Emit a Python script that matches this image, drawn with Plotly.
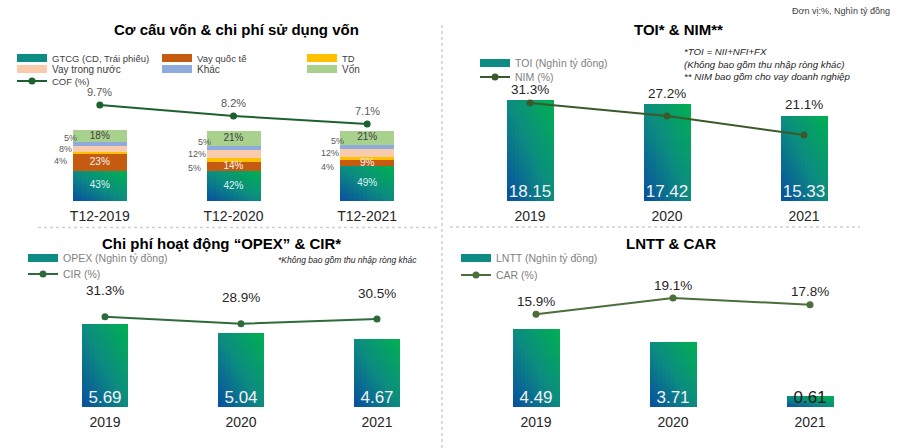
import plotly.graph_objects as go

W, H = 900, 448

# ---------------- data ----------------
struct_cats = ["T12-2019", "T12-2020", "T12-2021"]
gtcg = [43, 42, 49]
vay_qt = [23, 14, 9]
td = [4, 5, 4]
vay_tn = [8, 12, 12]
khac = [5, 5, 5]
von = [18, 21, 21]
cof = [9.7, 8.2, 7.1]

years = ["2019", "2020", "2021"]
toi = [18.15, 17.42, 15.33]
nim = [31.3, 27.2, 21.1]
opex = [5.69, 5.04, 4.67]
cir = [31.3, 28.9, 30.5]
lntt = [4.49, 3.71, 0.61]
car = [15.9, 19.1, 17.8]

# ---------------- style ----------------
FONT = "Liberation Sans, Arial, sans-serif"
BLUE = (8, 78, 160)
TEAL = (12, 140, 128)
GREEN = (0, 176, 80)
C_QT, C_TD, C_TN, C_KHAC, C_VON = "#C55A11", "#FFC000", "#F8CBAD", "#8FAADC", "#A9D18E"
C_COF, C_NIM, C_CIR, C_CAR = "#1E6131", "#3B5A2B", "#2E6B3C", "#4C6E3A"
TXT = "#262626"


def dom_x(a, b):
    return [a / W, b / W]


def dom_y(bottom, top):
    return [1 - bottom / H, 1 - top / H]


def yrange(zero_px, ppu, bottom, top):
    return [(zero_px - bottom) / ppu, (zero_px - top) / ppu]


def grad_color(t):
    if t < 0.5:
        a, b, s = BLUE, TEAL, t / 0.5
    else:
        a, b, s = TEAL, GREEN, (t - 0.5) / 0.5
    return "rgb(%d,%d,%d)" % tuple(round(a[i] + (b[i] - a[i]) * s) for i in range(3))


fig = go.Figure()


def gradient_bars(cats, vals, bases, width, xa, ya, name, N=28, K=12):
    xs, bs, ys, offs, ws, cols = [], [], [], [], [], []
    cw = width / K
    for r in range(N):
        for c in range(K):
            for cat, v, b0 in zip(cats, vals, bases):
                h = v / N
                xs.append(cat)
                bs.append(b0 + h * r)
                ys.append(h * (1.6 if r < N - 1 else 1.0))
                offs.append(-width / 2 + c * cw)
                ws.append(cw * (1.6 if c < K - 1 else 1.0))
                cols.append(grad_color(((r + 0.5) / N + (c + 0.5) / K) / 2))
    fig.add_trace(go.Bar(x=xs, y=ys, base=bs, offset=offs, width=ws,
                         marker=dict(color=cols, line=dict(width=0)),
                         xaxis=xa, yaxis=ya, hoverinfo="skip", showlegend=False))
    # transparent full bar carrying the real values (hover)
    fig.add_trace(go.Bar(x=cats, y=vals, base=bases, width=width, name=name,
                         marker=dict(color="rgba(0,0,0,0)", line=dict(width=0)),
                         xaxis=xa, yaxis=ya, showlegend=False,
                         hovertemplate="%{x}: %{y}<extra>" + name + "</extra>"))


def legend_swatch(name, color, legend):
    fig.add_trace(go.Scatter(x=[None], y=[None], mode="lines", name=name,
                             line=dict(color=color, width=8), legend=legend,
                             hoverinfo="skip"))


def cumsum_bases(*series):
    out = []
    acc = [0] * len(series[0])
    for s in series:
        out.append(list(acc))
        acc = [a + v for a, v in zip(acc, s)]
    return out


# ================= Panel 1: stacked structure + COF =================
b_gtcg, b_qt, b_td, b_tn, b_khac, b_von = cumsum_bases(gtcg, vay_qt, td, vay_tn, khac, von)
BW1 = 0.404
gradient_bars(struct_cats, gtcg, b_gtcg, BW1, "x", "y", "GTCG (CD, Trái phiếu)")
for vals, bases, col, nm in [(vay_qt, b_qt, C_QT, "Vay quốc tế"), (td, b_td, C_TD, "TD"),
                             (vay_tn, b_tn, C_TN, "Vay trong nước"), (khac, b_khac, C_KHAC, "Khác"),
                             (von, b_von, C_VON, "Vốn")]:
    fig.add_trace(go.Bar(x=struct_cats, y=vals, base=bases, width=BW1, name=nm,
                         marker=dict(color=col, line=dict(width=0)), xaxis="x", yaxis="y",
                         showlegend=False, hovertemplate="%{x}: %{y}%<extra>" + nm + "</extra>"))

# in-bar labels
for vals, bases, col in [(gtcg, b_gtcg, "#DDF3F3"), (vay_qt, b_qt, "#F5F5F5"), (von, b_von, "#404040")]:
    fig.add_trace(go.Scatter(x=struct_cats, y=[b + v / 2 for b, v in zip(bases, vals)],
                             mode="text", text=[f"{v}%" for v in vals],
                             textposition="middle center", textfont=dict(size=10, color=col, family=FONT),
                             xaxis="x", yaxis="y", showlegend=False, hoverinfo="skip"))

fig.add_trace(go.Scatter(x=struct_cats, y=cof, mode="lines+markers", name="COF (%)",
                         line=dict(color=C_COF, width=2), marker=dict(size=7, color=C_COF),
                         xaxis="x", yaxis="y2", legend="legend3",
                         hovertemplate="%{x}: %{y}%<extra>COF</extra>"))

legend_swatch("GTCG (CD, Trái phiếu)", "#0E8C84", "legend")
legend_swatch("Vay quốc tế", C_QT, "legend")
legend_swatch("TD", C_TD, "legend")
legend_swatch("Vay trong nước", C_TN, "legend2")
legend_swatch("Khác", C_KHAC, "legend2")
legend_swatch("Vốn", C_VON, "legend2")

# ================= Panel 2: TOI & NIM =================
BW = 0.336
gradient_bars(years, toi, [0, 0, 0], BW, "x2", "y3", "TOI")
fig.add_trace(go.Scatter(x=years, y=[0, 0, 0], mode="text", text=[f"{v:.2f}" for v in toi],
                         textposition="top center", textfont=dict(size=17, color="#F2F2F2", family=FONT),
                         xaxis="x2", yaxis="y3", showlegend=False, hoverinfo="skip"))
fig.add_trace(go.Scatter(x=years, y=nim, mode="lines+markers", name="NIM (%)",
                         line=dict(color=C_NIM, width=2), marker=dict(size=7, color=C_NIM),
                         xaxis="x2", yaxis="y4", legend="legend5",
                         hovertemplate="%{x}: %{y}%<extra>NIM</extra>"))
legend_swatch("TOI (Nghìn tỷ đồng)", "#0E8C84", "legend4")

# ================= Panel 3: OPEX & CIR =================
gradient_bars(years, opex, [0, 0, 0], BW, "x3", "y5", "OPEX")
fig.add_trace(go.Scatter(x=years, y=[0, 0, 0], mode="text", text=[f"{v:.2f}" for v in opex],
                         textposition="top center", textfont=dict(size=17, color="#F2F2F2", family=FONT),
                         xaxis="x3", yaxis="y5", showlegend=False, hoverinfo="skip"))
fig.add_trace(go.Scatter(x=years, y=cir, mode="lines+markers", name="CIR (%)",
                         line=dict(color=C_CIR, width=2), marker=dict(size=7, color=C_CIR),
                         xaxis="x3", yaxis="y6", legend="legend7",
                         hovertemplate="%{x}: %{y}%<extra>CIR</extra>"))
legend_swatch("OPEX (Nghìn tỷ đồng)", "#0E8C84", "legend6")

# ================= Panel 4: LNTT & CAR =================
lntt_label_colors = ["#F2F2F2", "#F2F2F2", "#1A1A1A"]
gradient_bars(years, lntt, [0, 0, 0], BW, "x4", "y7", "LNTT")
fig.add_trace(go.Scatter(x=years, y=[0, 0, 0], mode="text", text=[f"{v:.2f}" for v in lntt],
                         textposition="top center", textfont=dict(size=17, color=lntt_label_colors, family=FONT),
                         xaxis="x4", yaxis="y7", showlegend=False, hoverinfo="skip"))
fig.add_trace(go.Scatter(x=years, y=car, mode="lines+markers", name="CAR (%)",
                         line=dict(color=C_CAR, width=2), marker=dict(size=7, color=C_CAR),
                         xaxis="x4", yaxis="y8", legend="legend9",
                         hovertemplate="%{x}: %{y}%<extra>CAR</extra>"))
legend_swatch("LNTT (Nghìn tỷ đồng)", "#0E8C84", "legend8")

# ================= annotations =================
ann = []


def title(text, xc, yc, size=15):
    ann.append(dict(text=f"<b>{text}</b>", x=xc / W, y=1 - yc / H, xref="paper", yref="paper",
                    xanchor="center", yanchor="middle", showarrow=False,
                    font=dict(size=size, color="#000000", family=FONT)))


title("Cơ cấu vốn &amp; chi phí sử dụng vốn", 237, 30)
title("TOI* &amp; NIM**", 678, 29)
title("Chi phí hoạt động “OPEX” &amp; CIR*", 221, 243)
title("LNTT &amp; CAR", 671, 243)

ann.append(dict(text="Đơn vị:%, Nghìn tỷ đồng", x=892 / W, y=1 - 11 / H, xref="paper", yref="paper",
                xanchor="right", yanchor="middle", showarrow=False,
                font=dict(size=9, color="#404040", family=FONT)))
ann.append(dict(text="<i>*TOI = NII+NFI+FX<br>(Không bao gồm thu nhập ròng khác)<br>** NIM bao gồm cho vay doanh nghiệp</i>",
                x=682 / W, y=1 - 64 / H, xref="paper", yref="paper", align="left",
                xanchor="left", yanchor="middle", showarrow=False,
                font=dict(size=9.7, color="#262626", family=FONT)))
ann.append(dict(text="<i>*Không bao gồm thu nhập ròng khác</i>", x=276 / W, y=1 - 260 / H,
                xref="paper", yref="paper", xanchor="left", yanchor="middle", showarrow=False,
                font=dict(size=8.5, color="#262626", family=FONT)))

# small outside labels, panel 1 (staggered like the reference)
for vals, bases, xs, ys in [(khac, b_khac, -21, 6), (vay_tn, b_tn, -26, 0), (td, b_td, -31, -8)]:
    for i, (v, b) in enumerate(zip(vals, bases)):
        ann.append(dict(text=f"{v}%", x=i, y=b + v / 2, xref="x", yref="y", xanchor="right",
                        yanchor="middle", xshift=xs, yshift=ys, showarrow=False,
                        font=dict(size=9, color="#595959", family=FONT)))

# line value labels (x given as category index)
for i, v in enumerate(cof):
    ann.append(dict(text=f"{v}%", x=i, y=v, xref="x", yref="y2", yanchor="middle", yshift=13,
                    showarrow=False, font=dict(size=11, color="#595959", family=FONT)))
for i, (v, top) in enumerate(zip(nim, toi)):
    ann.append(dict(text=f"{v}%", x=i, y=top, xref="x2", yref="y3", yanchor="middle", yshift=11,
                    showarrow=False, font=dict(size=13.5, color=TXT, family=FONT)))
for i, v in enumerate(cir):
    ann.append(dict(text=f"{v}%", x=i, y=v, xref="x3", yref="y6", yanchor="middle", yshift=26,
                    showarrow=False, font=dict(size=13.5, color=TXT, family=FONT)))
for i, v in enumerate(car):
    ann.append(dict(text=f"{v}%", x=i, y=v, xref="x4", yref="y8", yanchor="middle", yshift=13,
                    showarrow=False, font=dict(size=13.5, color=TXT, family=FONT)))

# ================= separators =================
DOT = dict(color="#D0D0D0", width=1.5, dash="dot")
shapes = [
    dict(type="line", xref="paper", yref="paper", x0=442 / W, x1=442 / W, y0=1 - 25 / H, y1=0, line=DOT),
    dict(type="line", xref="paper", yref="paper", x0=38 / W, x1=438 / W, y0=1 - 227.5 / H, y1=1 - 227.5 / H, line=DOT),
    dict(type="line", xref="paper", yref="paper", x0=450 / W, x1=860 / W, y0=1 - 227 / H, y1=1 - 227 / H, line=DOT),
]

# ================= axes =================
def xax(domain, cats, anchor):
    return dict(domain=domain, anchor=anchor, type="category", categoryorder="array",
                categoryarray=cats, range=[-0.5, 2.5], showgrid=False, zeroline=False,
                showline=False, ticks="", tickfont=dict(size=14, color=TXT, family=FONT),
                ticklabelstandoff=5, fixedrange=True)


def yax(domain, rng, anchor, overlaying=None):
    d = dict(domain=domain, range=rng, anchor=anchor, visible=False, showgrid=False,
             zeroline=False, fixedrange=True)
    if overlaying:
        d["overlaying"] = overlaying
        d.pop("domain")
    return d


P = {
    1: dict(x=(33, 434), b=201, t=85, bz=201, bp=0.705, lz=176.1, lp=7.33),
    2: dict(x=(461.5, 872.5), b=201, t=85, bz=201, bp=5.56, lz=201.2, lp=3.135),
    3: dict(x=(37, 445), b=407, t=285, bz=407, bp=14.6, lz=409, lp=2.95),
    4: dict(x=(467.5, 878.5), b=407, t=285, bz=407, bp=17.4, lz=394, lp=5.02),
}
cats_of = {1: struct_cats, 2: years, 3: years, 4: years}
layout_axes = {}
for i, p in P.items():
    xn = "xaxis" if i == 1 else f"xaxis{i}"
    xr = "x" if i == 1 else f"x{i}"
    yb = 2 * i - 1
    yl = 2 * i
    ybn = "yaxis" if yb == 1 else f"yaxis{yb}"
    ybr = "y" if yb == 1 else f"y{yb}"
    layout_axes[xn] = xax(dom_x(*p["x"]), cats_of[i], ybr)
    layout_axes[ybn] = yax(dom_y(p["b"], p["t"]), yrange(p["bz"], p["bp"], p["b"], p["t"]), xr)
    layout_axes[f"yaxis{yl}"] = yax(dom_y(p["b"], p["t"]), yrange(p["lz"], p["lp"], p["b"], p["t"]), xr, ybr)


def leg(xpx, ypx, size, color):
    return dict(x=xpx / W, y=1 - ypx / H, xanchor="left", yanchor="middle", orientation="h",
                bgcolor="rgba(0,0,0,0)", borderwidth=0, traceorder="normal",
                entrywidth=100, entrywidthmode="pixels",
                font=dict(size=size, color=color, family=FONT))


fig.update_layout(
    width=W, height=H, autosize=False,
    margin=dict(l=0, r=0, t=0, b=0),
    paper_bgcolor="white", plot_bgcolor="rgba(0,0,0,0)",
    barmode="overlay", bargap=0,
    font=dict(family=FONT, color=TXT),
    showlegend=True,
    legend=leg(12, 58, 9.5, "#404040"),
    legend2=leg(12, 69, 10, "#404040"),
    legend3=leg(12, 81, 9.5, "#404040"),
    legend4=leg(475, 63, 10.5, "#7F7F7F"),
    legend5=leg(475, 77, 10.5, "#7F7F7F"),
    legend6=leg(23, 258, 10.5, "#7F7F7F"),
    legend7=leg(23, 274, 10.5, "#7F7F7F"),
    legend8=leg(456, 258, 10.5, "#7F7F7F"),
    legend9=leg(456, 275, 10.5, "#7F7F7F"),
    annotations=ann,
    shapes=shapes,
    **layout_axes,
)

fig.write_html("out.html", config={"displayModeBar": False},
               post_script="document.body.style.margin='0px';")
